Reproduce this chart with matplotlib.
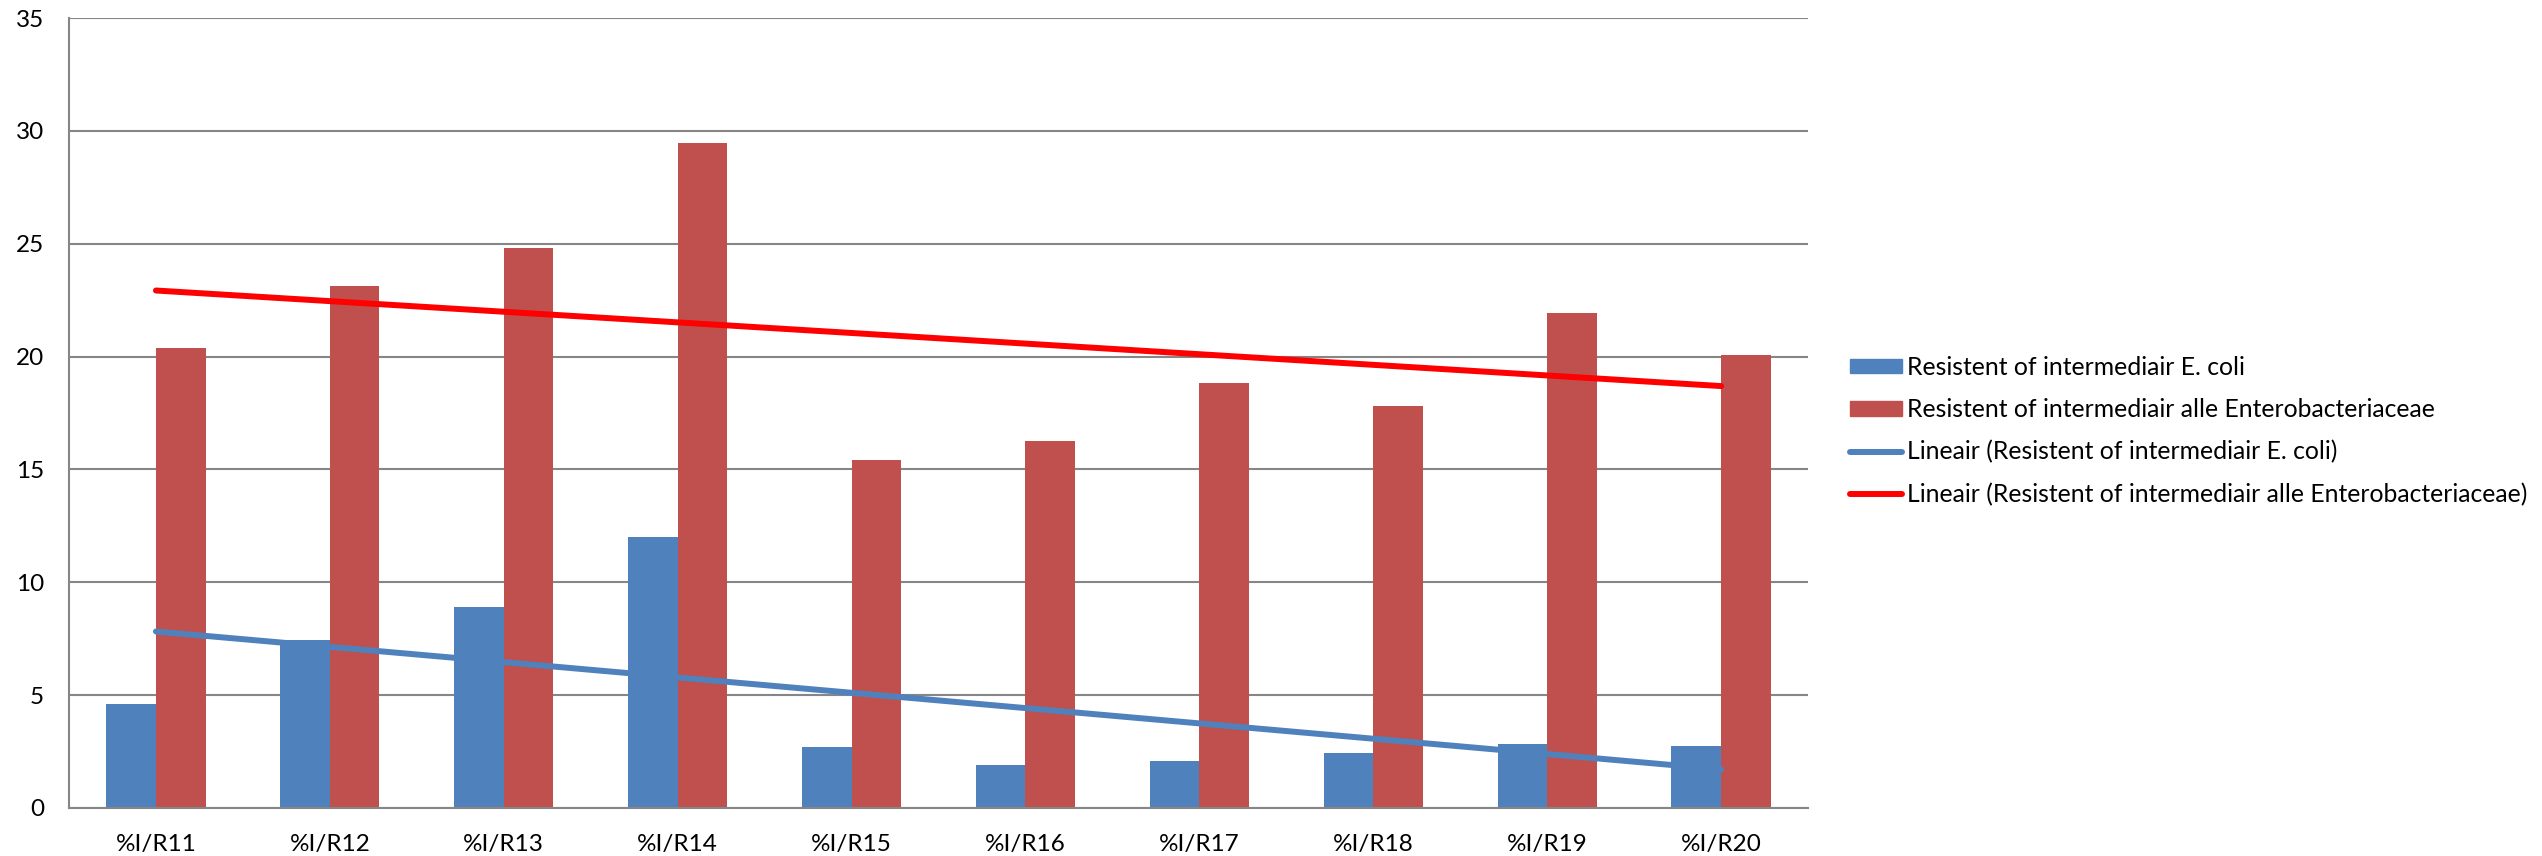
import numpy as np
import matplotlib
matplotlib.use("Agg")
import matplotlib.pyplot as plt
from matplotlib.patches import Patch
from matplotlib.lines import Line2D

plt.rcParams['font.family'] = ['Lato', 'DejaVu Sans']

categories = ['%I/R11', '%I/R12', '%I/R13', '%I/R14', '%I/R15',
              '%I/R16', '%I/R17', '%I/R18', '%I/R19', '%I/R20']
ecoli = [4.60, 7.45, 8.90, 12.02, 2.71, 1.89, 2.08, 2.42, 2.83, 2.76]
entero = [20.39, 23.13, 24.82, 29.46, 15.41, 16.28, 18.84, 17.80, 21.92, 20.05]

lab_ecoli = 'Resistent of intermediair E. coli'
lab_entero = 'Resistent of intermediair alle Enterobacteriaceae'

blue = '#4F81BD'
red = '#C0504D'
grid = '#868686'

fig = plt.figure(figsize=(25.42, 8.56), dpi=100)
fig.patch.set_facecolor('white')
ax = fig.add_axes([69/2542, 1-808/856, (1808-69)/2542, (808-18)/856])

x = np.arange(len(categories))
w = 0.285
ax.bar(x - w/2, ecoli, w, color=blue, zorder=2)
ax.bar(x + w/2, entero, w, color=red, zorder=2)

# lineaire trendlijnen
p1 = np.polyfit(x + 1, ecoli, 1)
p2 = np.polyfit(x + 1, entero, 1)
ax.plot(x, np.polyval(p1, x + 1), color=blue, lw=4.3, solid_capstyle='round', zorder=3)
ax.plot(x, np.polyval(p2, x + 1), color='#FF0000', lw=4.3, solid_capstyle='round', zorder=3)

ax.set_xlim(-0.5, len(categories) - 0.5)
ax.set_ylim(0, 35)
ax.set_yticks(range(0, 36, 5))
ax.set_xticks(x)
ax.set_xticklabels(categories)
ax.tick_params(axis='both', length=0, labelsize=17.5, colors='black')
ax.tick_params(axis='x', pad=19)
ax.tick_params(axis='y', pad=18)
ax.yaxis.grid(True, color=grid, lw=1.5, zorder=0)
ax.set_axisbelow(True)
for s in ['top', 'right']:
    ax.spines[s].set_visible(False)
for s in ['left', 'bottom']:
    ax.spines[s].set_color(grid)
    ax.spines[s].set_linewidth(1.5)

handles = [
    Patch(color=blue, label=lab_ecoli),
    Patch(color=red, label=lab_entero),
    Line2D([], [], color=blue, lw=4.3, solid_capstyle='round', label='Lineair (' + lab_ecoli + ')'),
    Line2D([], [], color='#FF0000', lw=4.3, solid_capstyle='round', label='Lineair (' + lab_entero + ')'),
]
fig.legend(handles=handles, loc='center left', bbox_to_anchor=(1850/2542, 1-431/856),
           frameon=False, fontsize=17.8, handlelength=2.1, handleheight=0.55,
           handletextpad=0.22, labelspacing=0.78, borderpad=0, borderaxespad=0)

fig.savefig('out.png', dpi=100, facecolor='white')
